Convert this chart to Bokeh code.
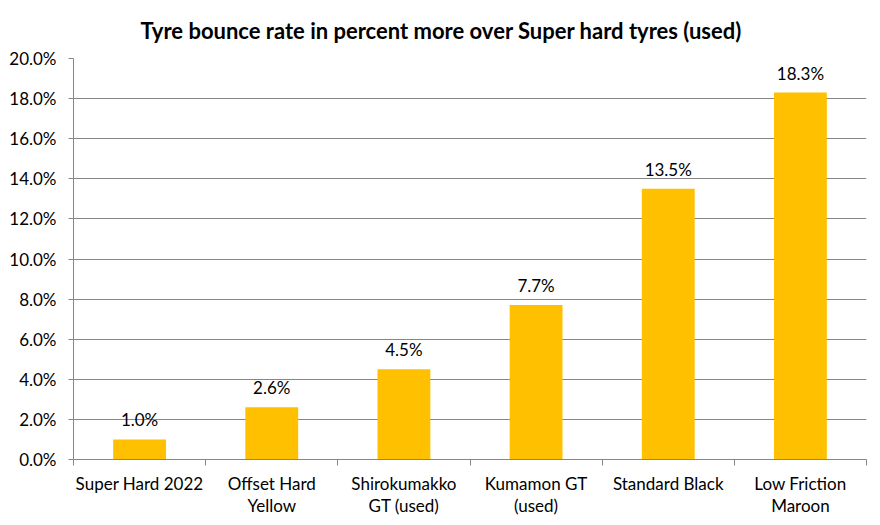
from bokeh.plotting import figure
from bokeh.models import ColumnDataSource, FixedTicker, LabelSet, Range1d, NumeralTickFormatter
from bokeh.core.properties import value
from bokeh.embed import file_html
from bokeh.resources import INLINE

title_text = "Tyre bounce rate in percent more over Super hard tyres (used)"
categories = ["Super Hard 2022", "Offset Hard\nYellow", "Shirokumakko\nGT (used)",
              "Kumamon GT\n(used)", "Standard Black", "Low Friction\nMaroon"]
values = [0.010, 0.026, 0.045, 0.077, 0.135, 0.183]
value_labels = ["1.0%", "2.6%", "4.5%", "7.7%", "13.5%", "18.3%"]
y_ticks = [0.0, 0.02, 0.04, 0.06, 0.08, 0.10, 0.12, 0.14, 0.16, 0.18, 0.20]

xs = [i + 0.5 for i in range(len(categories))]
src = ColumnDataSource(dict(x=xs, top=values, lab=value_labels))

FONT = "Lato"
GRAY = "#868686"
W, H = 880, 525

p = figure(width=W, height=H, output_backend="svg", toolbar_location=None,
           x_range=Range1d(0, len(categories)), y_range=Range1d(0, 0.20),
           min_border_left=73, min_border_right=14, min_border_bottom=66,
           min_border_top=0, title=title_text)
p.title.align = "left"
p.title.offset = 67
p.title.text_font = FONT
p.title.text_font_style = "bold"
p.title.text_font_size = "22px"
p.title.text_color = "#000000"
p.title.standoff = 29

p.outline_line_color = None
p.background_fill_color = "white"

p.vbar(x="x", top="top", width=0.4, bottom=0, source=src,
       fill_color="#FFC000", line_color=None)

labels = LabelSet(x="x", y="top", text="lab", source=src, text_align="center",
                  text_baseline="bottom", y_offset=9, text_font_size="17px",
                  text_font=value(FONT), text_color="#000000")
p.add_layout(labels)

# y axis
p.yaxis.ticker = FixedTicker(ticks=y_ticks)
p.yaxis.formatter = NumeralTickFormatter(format="0.0%")
p.yaxis.major_label_text_font = FONT
p.yaxis.major_label_text_font_size = "17px"
p.yaxis.major_label_text_color = "#000000"
p.yaxis.axis_line_color = GRAY
p.yaxis.major_tick_line_color = GRAY
p.yaxis.major_tick_out = 5
p.yaxis.major_tick_in = 0
p.yaxis.minor_tick_line_color = None
p.yaxis.major_label_standoff = 12

# x axis
p.xaxis.ticker = FixedTicker(ticks=xs, minor_ticks=list(range(len(categories) + 1)))
p.xaxis.major_label_overrides = {x: c for x, c in zip(xs, categories)}
p.xaxis.major_label_text_font = FONT
p.xaxis.major_label_text_font_size = "17px"
p.xaxis.major_label_text_color = "#000000"
p.xaxis.major_label_text_line_height = 1.05
p.xaxis.major_tick_line_color = None
p.xaxis.minor_tick_line_color = GRAY
p.xaxis.minor_tick_out = 6
p.xaxis.minor_tick_in = 0
p.xaxis.axis_line_color = GRAY
p.xaxis.major_label_standoff = 7

p.xgrid.grid_line_color = None
p.ygrid.grid_line_color = GRAY
p.ygrid.grid_line_width = 1

open("out.html", "w").write(file_html(p, INLINE))
